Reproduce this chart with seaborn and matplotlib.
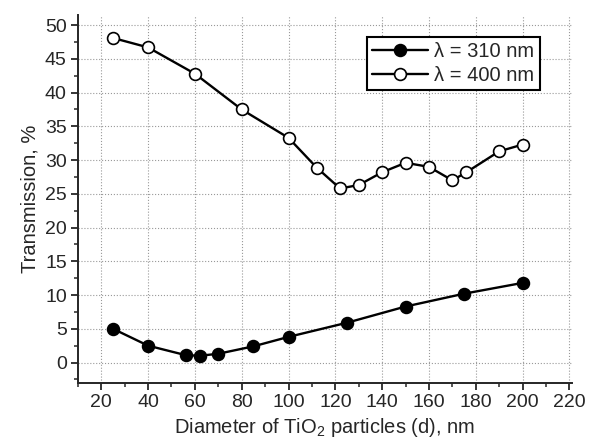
import numpy as np
import pandas as pd
import matplotlib
matplotlib.use("Agg")
import matplotlib.pyplot as plt
import seaborn as sns
from matplotlib.ticker import MultipleLocator

# 数据
d_310 = [25, 40, 56, 62, 70, 85, 100, 125, 150, 175, 200]
t_310 = [5.0, 2.5, 1.1, 1.0, 1.3, 2.4, 3.8, 5.9, 8.3, 10.2, 11.8]

d_400 = [25, 40, 60, 80, 100, 112, 122, 130, 140, 150, 160, 170, 176, 190, 200]
t_400 = [48.1, 46.7, 42.8, 37.5, 33.3, 28.9, 25.8, 26.3, 28.2, 29.6, 29.0, 27.0, 28.2, 31.3, 32.3]

labels = ["λ = 310 nm", "λ = 400 nm"]

df = pd.concat([
    pd.DataFrame({"d": d_310, "T": t_310, "series": labels[0]}),
    pd.DataFrame({"d": d_400, "T": t_400, "series": labels[1]}),
], ignore_index=True)

sns.set_style("ticks")
plt.rcParams["font.family"] = ["Liberation Sans", "DejaVu Sans"]
plt.rcParams["mathtext.default"] = "regular"

fig = plt.figure(figsize=(5.9, 4.42), dpi=100)
ax = fig.add_axes([0.132, 0.134, 0.837, 0.832])

for lab, face in zip(labels, ["black", "white"]):
    sub = df[df["series"] == lab]
    sns.lineplot(data=sub, x="d", y="T", ax=ax, color="black", linewidth=1.7,
                 marker="o", markersize=8.5, markerfacecolor=face,
                 markeredgecolor="black", markeredgewidth=1.2, label=lab,
                 sort=False)

ax.set_xlim(10, 221)
ax.set_ylim(-3, 51.5)
ax.set_xticks(np.arange(20, 221, 20))
ax.set_yticks(np.arange(0, 51, 5))
ax.xaxis.set_minor_locator(MultipleLocator(10))
ax.yaxis.set_minor_locator(MultipleLocator(2.5))
ax.tick_params(which="major", length=5, width=1.3, labelsize=14, direction="out", pad=3)
ax.tick_params(which="minor", length=3, width=1.1, direction="out")
ax.grid(True, which="major", linestyle=":", color="#999999", linewidth=0.8)
sns.despine(ax=ax)
for s in ["left", "bottom"]:
    ax.spines[s].set_linewidth(1.4)

ax.set_xlabel("Diameter of TiO$_2$ particles (d), nm", fontsize=14.5, labelpad=4)
ax.set_ylabel("Transmission, %", fontsize=14.5, labelpad=4)

leg = ax.legend(loc="upper right", bbox_to_anchor=(0.935, 0.94), fontsize=14.5,
                frameon=True, fancybox=False, framealpha=1, edgecolor="black",
                handlelength=2.8, handletextpad=0.3, borderpad=0.25, labelspacing=0.25,
                borderaxespad=0)
leg.get_frame().set_linewidth(1.5)

fig.savefig("out.png", dpi=100)
